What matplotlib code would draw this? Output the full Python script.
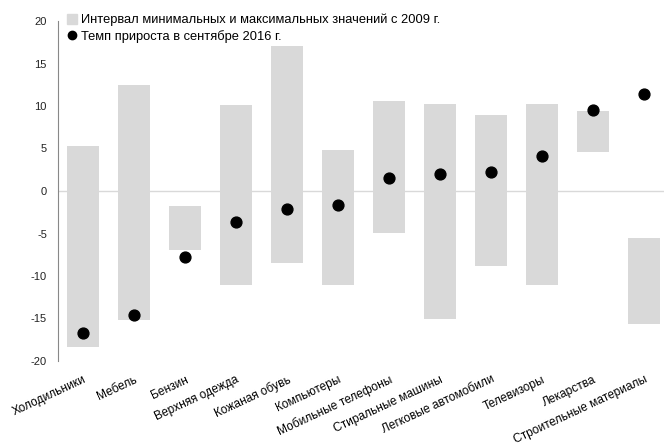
import numpy as np
import matplotlib
matplotlib.use('Agg')
import matplotlib.pyplot as plt
from matplotlib.lines import Line2D

plt.rcParams['font.family'] = ['Liberation Sans', 'DejaVu Sans']
plt.rcParams['axes.unicode_minus'] = False

# categories
cats = ['Холодильники', 'Мебель', 'Бензин', 'Верхняя одежда', 'Кожаная обувь',
        'Компьютеры', 'Мобильные телефоны', 'Стиральные машины',
        'Легковые автомобили', 'Телевизоры', 'Лекарства', 'Строительные материалы']
# min / max since 2009
lo = [-18.3, -15.2, -6.9, -11.1, -8.5, -11.1, -4.9, -15.1, -8.8, -11.1, 4.6, -15.6]
hi = [5.3, 12.5, -1.8, 10.1, 17.1, 4.8, 10.6, 10.2, 8.9, 10.2, 9.4, -5.5]
# growth rate Sep 2016
cur = [-16.7, -14.6, -7.8, -3.7, -2.1, -1.6, 1.5, 2.0, 2.2, 4.1, 9.5, 11.4]

gray = '#d9d9d9'
fig = plt.figure(figsize=(6.64, 4.45), dpi=100)
ax = fig.add_axes([58/664, (445-361)/445, 606/664, 340/445])

x = np.arange(len(cats))
ax.axhline(0, color=gray, lw=1, zorder=0)
ax.bar(x, np.array(hi) - np.array(lo), bottom=lo, width=0.63, color=gray, zorder=1)
ax.plot(x, cur, 'o', color='black', markersize=7.8, zorder=3)

ax.set_xlim(-0.49, 11.39)
ax.set_ylim(-20, 20)
ax.set_yticks(np.arange(-20, 21, 5))
ax.tick_params(axis='y', length=0, pad=8, labelsize=8, colors='#222222')
ax.set_xticks(x)
ax.set_xticklabels(cats, rotation=25, ha='right', va='top', rotation_mode='anchor', fontsize=8.6)
ax.tick_params(axis='x', length=0, pad=9)
for s in ['top', 'right', 'bottom']:
    ax.spines[s].set_visible(False)
ax.spines['left'].set_color('#888888')
ax.spines['left'].set_linewidth(0.8)

handles = [Line2D([], [], marker='s', color=gray, ls='', markersize=6.5),
           Line2D([], [], marker='o', color='black', ls='', markersize=6)]
labels = ['Интервал минимальных и максимальных значений с 2009 г.',
          'Темп прироста в сентябре 2016 г.']
fig.legend(handles, labels, loc='upper left', bbox_to_anchor=(67/664, 1 - 14/445),
           frameon=False, fontsize=9.3, handlelength=0.8, handletextpad=0.25,
           borderpad=0, borderaxespad=0, labelspacing=0.25)

fig.savefig('out.png', dpi=100)
